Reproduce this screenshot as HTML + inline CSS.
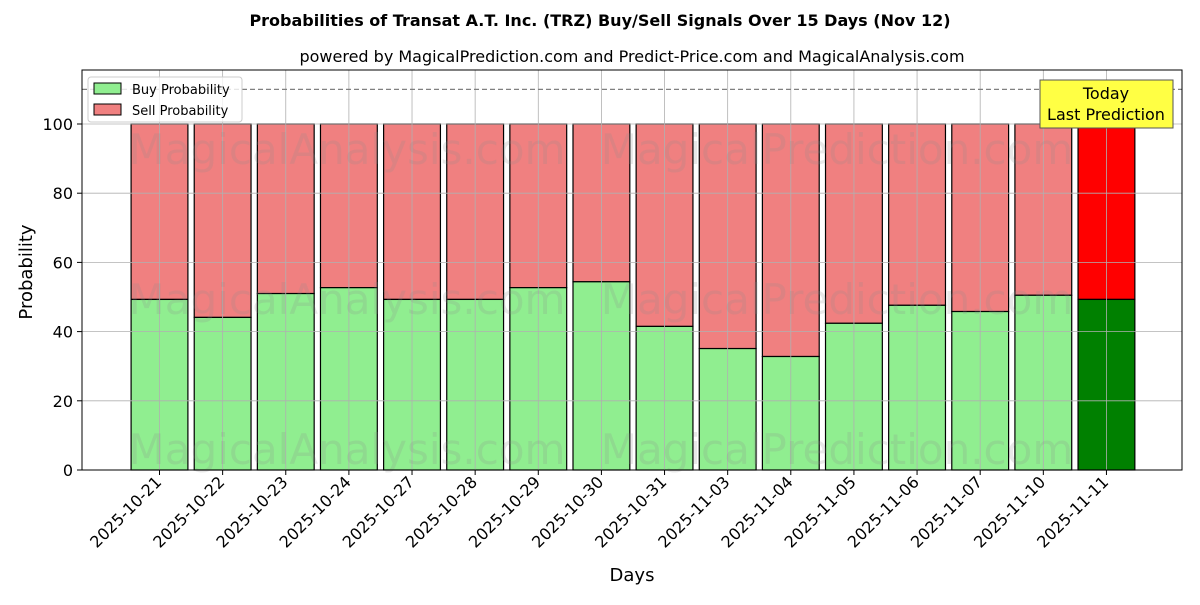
<!DOCTYPE html>
<html><head><meta charset="utf-8"><style>
body{margin:0;background:#fff;font-family:"Liberation Sans","DejaVu Sans",sans-serif}
</style></head><body>
<svg id="chart" width="1200" height="600" xmlns="http://www.w3.org/2000/svg" font-family="DejaVu Sans, Liberation Sans, sans-serif">
<text x="600" y="26" text-anchor="middle" font-size="16" font-weight="bold">Probabilities of Transat A.T. Inc. (TRZ) Buy/Sell Signals Over 15 Days (Nov 12)</text>
<text x="632" y="62" text-anchor="middle" font-size="16">powered by MagicalPrediction.com and Predict-Price.com and MagicalAnalysis.com</text>
<g id="plot"></g>
<text x="632" y="581" text-anchor="middle" font-size="18">Days</text>
<text transform="translate(32,272) rotate(-90)" text-anchor="middle" font-size="18">Probability</text>
</svg>
<script>
const categories=["2025-10-21","2025-10-22","2025-10-23","2025-10-24","2025-10-27","2025-10-28","2025-10-29","2025-10-30","2025-10-31","2025-11-03","2025-11-04","2025-11-05","2025-11-06","2025-11-07","2025-11-10","2025-11-11"];
const buyValues=[49.3,44.1,51.0,52.7,49.3,49.3,52.7,54.4,41.5,35.1,32.8,42.4,47.6,45.8,50.5,49.3];
const yTicks=[0,20,40,60,80,100];
const NS="http://www.w3.org/2000/svg";
const L=82,R=1182,T=70,B=470;
const n=categories.length;
const unit=63.13;
function xs(i){return 159.5+i*unit;}
function ys(v){return B-v*3.46;}
const g=document.getElementById('plot');
function el(tag,attrs,parent){const e=document.createElementNS(NS,tag);for(const k in attrs)e.setAttribute(k,attrs[k]);(parent||g).appendChild(e);return e;}
const bw=0.9*unit;
categories.forEach((c,i)=>{
 const last=i===n-1;const cx=xs(i);const b=buyValues[i];
 const s=el('rect',{x:cx-bw/2,y:ys(100),width:bw,height:ys(b)-ys(100),fill:last?'#ff0000':'#f08080',stroke:'#000','stroke-width':1.2});
 
 
 const r=el('rect',{x:cx-bw/2,y:ys(b),width:bw,height:B-ys(b),fill:last?'#008000':'#90ee90',stroke:'#000','stroke-width':1.2});
 
 
});
// grid
categories.forEach((c,i)=>{const cx=xs(i);
 el('line',{x1:cx,x2:cx,y1:T,y2:B,stroke:'#b0b0b0','stroke-width':0.8});
 el('line',{x1:cx,x2:cx,y1:B,y2:B+5,stroke:'#000'});
 const t=el('text',{transform:`translate(${cx+3},${B+13}) rotate(-45)`,'text-anchor':'end','font-size':16});t.textContent=c;
 
 
});
yTicks.forEach(v=>{const y=ys(v);
 el('line',{x1:L,x2:R,y1:y,y2:y,stroke:'#b0b0b0','stroke-width':0.8});
 el('line',{x1:L-5,x2:L,y1:y,y2:y,stroke:'#000'});
 const t=el('text',{x:L-9,y:y+6,'text-anchor':'end','font-size':16});t.textContent=v;
 
 
});
// watermarks
[[347,150],[837,150],[347,300],[837,300],[347,450],[837,450]].forEach((p,j)=>{const t=el('text',{x:p[0],y:p[1]+14,'text-anchor':'middle','font-size':42,fill:'rgba(140,140,140,0.2)'});t.textContent=j%2?'MagicalPrediction.com':'MagicalAnalysis.com';

});
el('line',{x1:L,x2:R,y1:ys(110),y2:ys(110),stroke:'#808080','stroke-dasharray':'5,3','stroke-width':1.2});
const fr=el('rect',{x:L,y:T,width:R-L,height:B-T,fill:'none',stroke:'#000','stroke-width':1});


// annotation
const ann=el('g',{});


el('rect',{x:1040,y:80,width:133,height:48,fill:'#ffff44',stroke:'#555'},ann);
let t1=el('text',{x:1106,y:99,'text-anchor':'middle','font-size':16},ann);t1.textContent='Today';
let t2=el('text',{x:1106,y:120,'text-anchor':'middle','font-size':16},ann);t2.textContent='Last Prediction';
// legend
const lg=el('g',{});


el('rect',{x:88,y:77,width:154,height:45,rx:3,fill:'#fff','fill-opacity':0.8,stroke:'#ccc'},lg);
el('rect',{x:94,y:83,width:27,height:11,fill:'#90ee90',stroke:'#000'},lg);
el('rect',{x:94,y:104,width:27,height:11,fill:'#f08080',stroke:'#000'},lg);
let l1=el('text',{x:132,y:94,'font-size':13},lg);l1.textContent='Buy Probability';


let l2=el('text',{x:132,y:115,'font-size':13},lg);l2.textContent='Sell Probability';


</script>
</body></html>
